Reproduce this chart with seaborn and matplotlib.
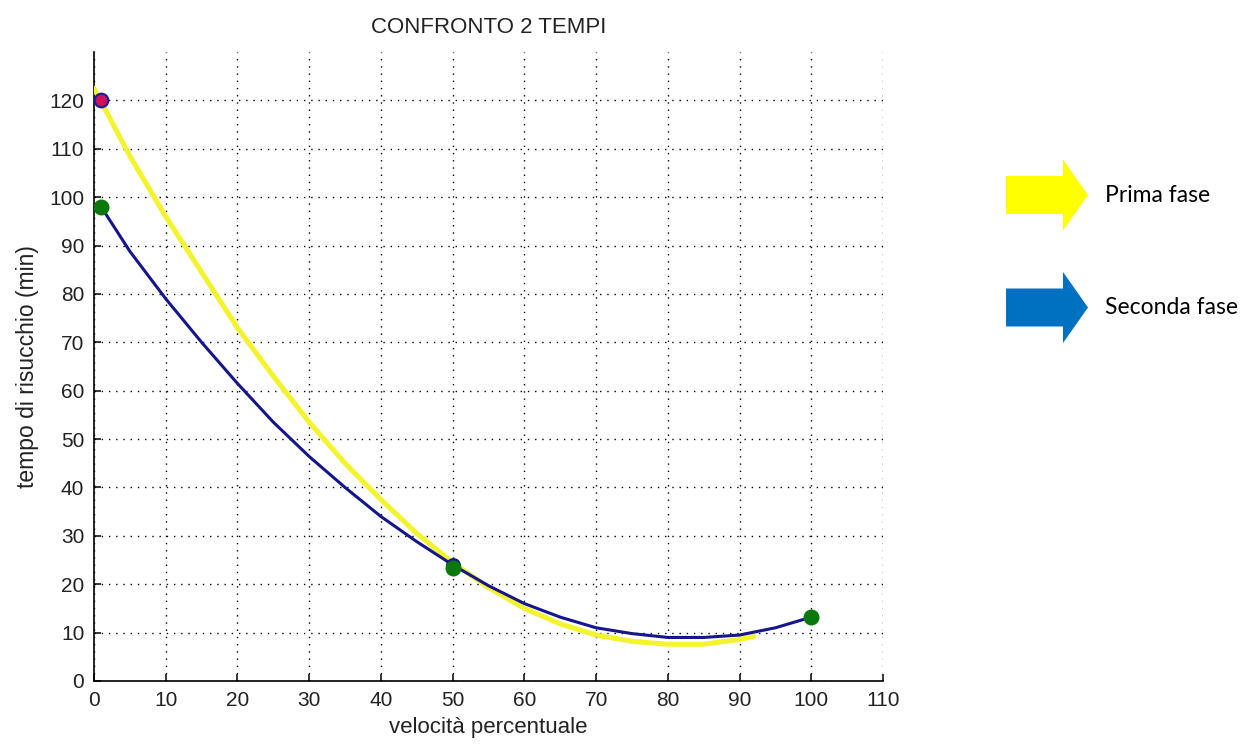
import matplotlib
matplotlib.use("Agg")
import matplotlib.pyplot as plt
import seaborn as sns
import pandas as pd
from matplotlib.patches import FancyArrow

# ---- data ----
prima_x = [0, 5, 10, 15, 20, 25, 30, 35, 40, 45, 50, 55, 60, 65, 70, 75, 80, 85, 90, 92]
prima_y = [122.5, 108.5, 96, 84.5, 73, 63, 53.5, 45, 37.5, 30.5, 24.5, 19.3, 15, 11.8, 9.5, 8.2, 7.6, 7.6, 8.6, 9.2]

seconda_x = [1, 5, 10, 15, 20, 25, 30, 35, 40, 45, 50, 55, 60, 65, 70, 75, 80, 85, 90, 95, 100]
seconda_y = [98, 88.8, 79, 70, 61.5, 53.5, 46.4, 40, 34, 28.8, 24, 19.7, 16, 13.2, 11, 9.8, 9, 9.0, 9.5, 11, 13.2]

red_pt_x = [1]
red_pt_y = [120]
blue_pt_x = [50]
blue_pt_y = [24]
green_pt_x = [1, 50, 100]
green_pt_y = [98, 23.3, 13.2]

x_ticks = [0, 10, 20, 30, 40, 50, 60, 70, 80, 90, 100, 110]
y_ticks = [0, 10, 20, 30, 40, 50, 60, 70, 80, 90, 100, 110, 120]
title = "CONFRONTO 2 TEMPI"
x_label = "velocità percentuale"
y_label = "tempo di risucchio (min)"
legend_labels = ["Prima fase", "Seconda fase"]

# ---- style ----
sns.set_theme(style="white")
plt.rcParams["font.family"] = ["Liberation Sans", "DejaVu Sans"]

W, H = 1254, 747
fig = plt.figure(figsize=(W / 100, H / 100), dpi=100)
ax = fig.add_axes([94 / W, 1 - 681 / H, (883 - 94) / W, (681 - 52) / H])

df1 = pd.DataFrame({"x": prima_x, "y": prima_y})
df2 = pd.DataFrame({"x": seconda_x, "y": seconda_y})

sns.lineplot(data=df1, x="x", y="y", ax=ax, sort=False, estimator=None,
             color="#F3F32E", linewidth=3.6, zorder=3,
             solid_joinstyle="round", solid_capstyle="round")
sns.lineplot(data=df2, x="x", y="y", ax=ax, sort=False, estimator=None,
             color="#16168C", linewidth=2.2, zorder=4,
             solid_joinstyle="round", solid_capstyle="round")

sns.scatterplot(x=red_pt_x, y=red_pt_y, ax=ax, s=95, color="#D0105A",
                edgecolor="#1E1E9A", linewidth=1.6, zorder=5)
sns.scatterplot(x=blue_pt_x, y=blue_pt_y, ax=ax, s=95, color="#16168C",
                edgecolor="#16168C", linewidth=1, zorder=5)
sns.scatterplot(x=green_pt_x, y=green_pt_y, ax=ax, s=110, color="#0A780A",
                edgecolor="#0A780A", linewidth=1, zorder=6)

ax.set_xlim(0, 110)
ax.set_ylim(0, 130)
ax.set_xticks(x_ticks)
ax.set_yticks(y_ticks)
ax.grid(True, color="black", linestyle=(0, (1, 4.2)), linewidth=1.0, zorder=1)
for s in ["top", "right"]:
    ax.spines[s].set_visible(False)
for s in ["left", "bottom"]:
    ax.spines[s].set_color("black")
    ax.spines[s].set_linewidth(1.2)
ax.tick_params(direction="in", length=5, width=1.1, color="black",
               labelsize=15, labelcolor="#222222", pad=7,
               bottom=True, left=True)
ax.set_xlabel(x_label, fontsize=16, color="#222222", labelpad=5)
ax.set_ylabel(y_label, fontsize=16.5, color="#222222", labelpad=7)
ax.set_title(title, fontsize=16, color="#222222", pad=14)

# ---- arrow legend on the right ----
def arrow(y_center_px, color):
    x0 = 1006 / W
    length = (1088 - 1006) / W
    body_w = 38 / H
    head_w = 71 / H
    head_len = 25 / W
    a = FancyArrow(x0, 1 - y_center_px / H, length, 0, width=body_w,
                   head_width=head_w, head_length=head_len,
                   length_includes_head=True, color=color,
                   transform=fig.transFigure, linewidth=0)
    fig.patches.append(a)

arrow(195, "#FFFF00")
arrow(307.5, "#0070C0")
fig.text(1105 / W, 1 - 196 / H, legend_labels[0], fontsize=16.5,
         family=["Lato", "DejaVu Sans"], va="center", ha="left", color="black")
fig.text(1105 / W, 1 - 308 / H, legend_labels[1], fontsize=16.5,
         family=["Lato", "DejaVu Sans"], va="center", ha="left", color="black")

fig.savefig("out.png", dpi=100)
